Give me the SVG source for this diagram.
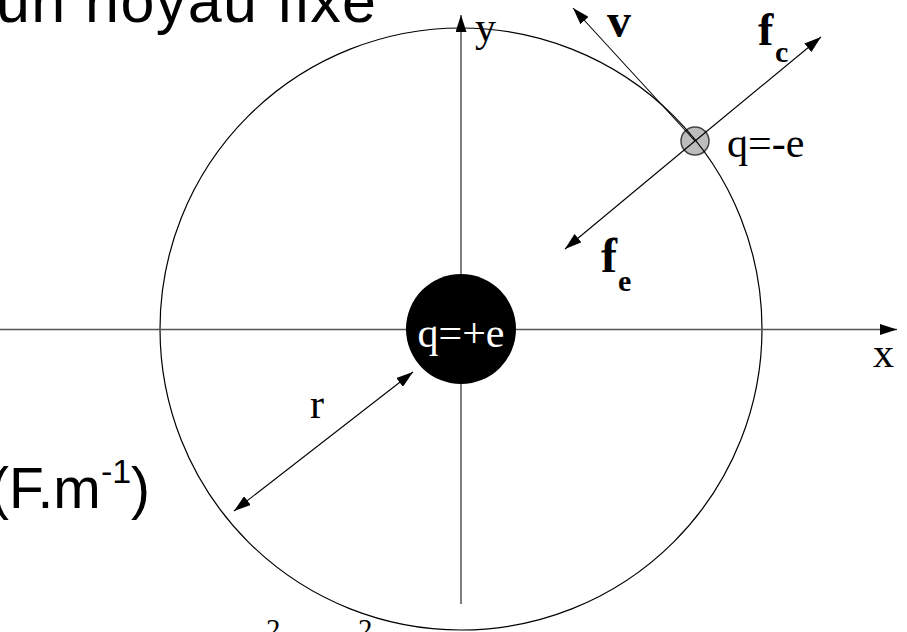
<svg xmlns="http://www.w3.org/2000/svg" width="907" height="632" viewBox="0 0 907 632">
<style>
.sans{font-family:"Liberation Sans",Arial,sans-serif;fill:#000}
.ser{font-family:"Liberation Serif","Times New Roman",serif;fill:#000}
.bold{font-weight:bold}
.axis{stroke:#555;stroke-width:1.5;fill:none}
.vec{stroke:#000;stroke-width:1.1;fill:none}
</style>
<defs>
<marker id="arr" viewBox="0 0 17 11" refX="17" refY="5.5" markerWidth="17" markerHeight="11" markerUnits="userSpaceOnUse" orient="auto-start-reverse">
<path d="M0,0 L17,5.5 L0,11 z" fill="#000"/>
</marker>
</defs>
<rect width="907" height="632" fill="#fff"/>
<text class="sans" x="-4" y="22" font-size="61" textLength="380" lengthAdjust="spacing">un noyau fixe</text>
<text class="sans" x="-10" y="508" font-size="57">(F.m</text>
<text class="sans" x="101" y="483" font-size="34">-1</text>
<text class="sans" x="131" y="508" font-size="57">)</text>
<text class="ser" x="266" y="639" font-size="29">2</text>
<text class="ser" x="358" y="639" font-size="29">2</text>
<g id="electron">
<circle cx="695" cy="141" r="14" fill="#bdbdbd" stroke="#444" stroke-width="1.5"/>
<text class="ser" x="727" y="157" font-size="42">q=-e</text>
</g>
<g id="orbit">
<circle cx="461" cy="329" r="301" fill="none" stroke="#000" stroke-width="1.2"/>
</g>
<g id="axes">
<line class="axis" x1="0" y1="329.5" x2="897" y2="329.5" marker-end="url(#arr)"/>
<line class="axis" x1="461" y1="604" x2="461" y2="15" marker-end="url(#arr)"/>
<text class="ser" x="873" y="367" font-size="42">x</text>
<text class="ser" x="475" y="41" font-size="42">y</text>
</g>
<g id="nucleus">
<circle cx="461" cy="329" r="55" fill="#000"/>
<text class="ser" x="461" y="347" font-size="42" style="fill:#fff" text-anchor="middle">q=+e</text>
</g>
<g id="connectors">
<line class="vec" x1="695" y1="141" x2="573" y2="8" marker-end="url(#arr)"/>
<line class="vec" x1="695" y1="141" x2="821" y2="37" marker-end="url(#arr)"/>
<line class="vec" x1="695" y1="141" x2="565" y2="249" marker-end="url(#arr)"/>
<line class="vec" x1="413" y1="372" x2="234" y2="511" marker-start="url(#arr)" marker-end="url(#arr)"/>
</g>
<g id="labels">
<text class="ser bold" x="607" y="37" font-size="48">v</text>
<text class="ser bold" x="758" y="45" font-size="46">f</text>
<text class="ser bold" x="775" y="62" font-size="30">c</text>
<text class="ser bold" x="601" y="272" font-size="48">f</text>
<text class="ser bold" x="618" y="291" font-size="30">e</text>
<text class="ser" x="310" y="418" font-size="42">r</text>
</g>
</svg>
